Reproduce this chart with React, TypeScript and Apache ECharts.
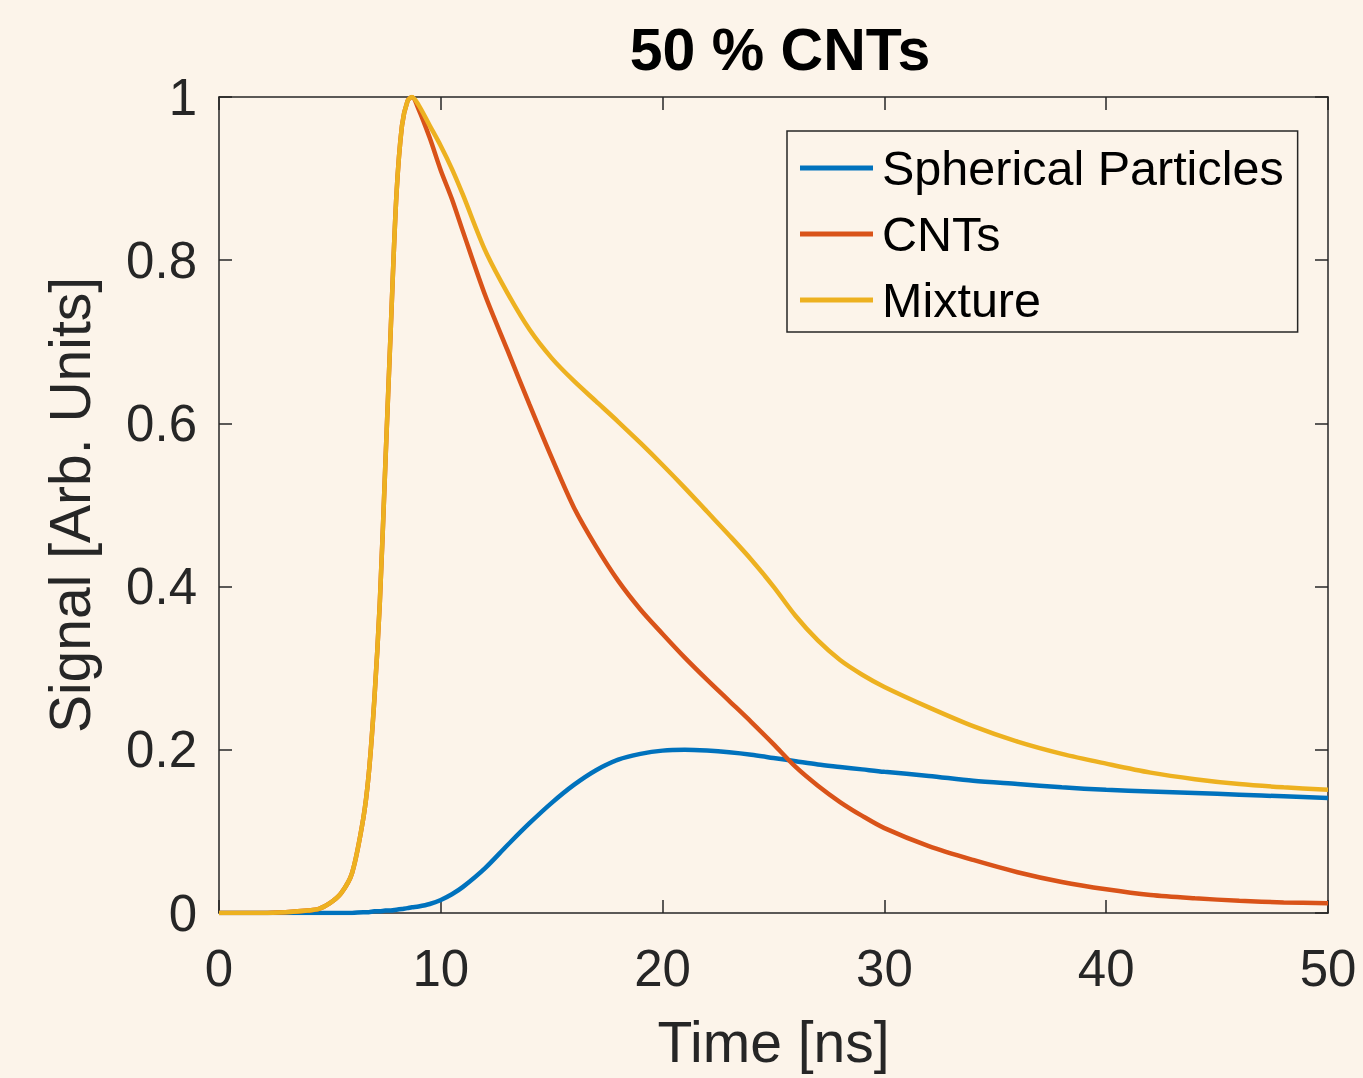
import React, { useEffect, useRef } from "react";
import * as echarts from "echarts";

const times = [0, 2, 3, 4, 4.5, 5, 5.5, 6, 6.5, 6.75, 7, 7.25, 7.5, 7.75, 8, 8.25, 8.5, 8.7, 9, 9.5, 10, 10.5, 11, 12, 13, 14, 15, 16, 17, 18, 19, 20, 21, 22, 23, 24, 25, 26, 27, 28, 29, 30, 32, 34, 36, 38, 40, 42, 44, 46, 48, 50];

const spherical = [0, 0, 0, 0, 0, 0, 0, 0, 0.001, 0.001, 0.002, 0.002, 0.003, 0.003, 0.004, 0.005, 0.006, 0.007, 0.008, 0.011, 0.016, 0.023, 0.032, 0.055, 0.083, 0.11, 0.135, 0.157, 0.175, 0.188, 0.195, 0.199, 0.2, 0.199, 0.197, 0.194, 0.19, 0.186, 0.182, 0.179, 0.176, 0.173, 0.168, 0.162, 0.158, 0.154, 0.151, 0.149, 0.147, 0.145, 0.143, 0.141];

const cnts = [0, 0, 0.001, 0.003, 0.005, 0.012, 0.024, 0.049, 0.115, 0.17, 0.26, 0.38, 0.55, 0.72, 0.88, 0.965, 0.995, 1.0, 0.985, 0.95, 0.91, 0.875, 0.835, 0.757, 0.69, 0.623, 0.558, 0.497, 0.449, 0.407, 0.372, 0.342, 0.313, 0.286, 0.26, 0.234, 0.207, 0.179, 0.156, 0.136, 0.119, 0.104, 0.082, 0.065, 0.05, 0.038, 0.029, 0.022, 0.018, 0.015, 0.013, 0.012];

const mixture = [0, 0, 0.001, 0.003, 0.005, 0.012, 0.024, 0.049, 0.115, 0.17, 0.26, 0.38, 0.55, 0.72, 0.88, 0.965, 0.995, 1.0, 0.99, 0.965, 0.94, 0.912, 0.88, 0.812, 0.76, 0.715, 0.68, 0.652, 0.627, 0.602, 0.576, 0.549, 0.521, 0.492, 0.463, 0.433, 0.4, 0.364, 0.334, 0.31, 0.292, 0.277, 0.252, 0.229, 0.21, 0.195, 0.183, 0.172, 0.164, 0.158, 0.154, 0.151];

const seriesNames = ["Spherical Particles", "CNTs", "Mixture"];
const seriesColors = ["#0072BD", "#D95319", "#EDB120"];
const xTicks = [0, 10, 20, 30, 40, 50];
const yTicks = [0, 0.2, 0.4, 0.6, 0.8, 1];

const FONT = "'Liberation Sans', Arial, Helvetica, sans-serif";
const AXIS_COLOR = "#262626";

export default function App() {
  const ref = useRef<HTMLDivElement>(null);
  useEffect(() => {
    if (!ref.current) return;
    const chart = echarts.init(ref.current, null, { renderer: "svg" });
    const values = [spherical, cnts, mixture];
    const axisCommon = {
      type: "value" as const,
      axisLine: { show: true, onZero: false, lineStyle: { color: AXIS_COLOR, width: 1.5 } },
      axisTick: { show: true, inside: true, length: 13, lineStyle: { color: AXIS_COLOR, width: 1.5 } },
      splitLine: { show: false },
    };
    chart.setOption({
      animation: false,
      backgroundColor: "#FCF4EA",
      textStyle: { fontFamily: FONT },
      title: {
        text: "50 % CNTs",
        left: 775,
        top: 15,
        textAlign: "center",
        textStyle: { fontFamily: FONT, fontWeight: "bold", fontSize: 59, color: "#000" },
      },
      grid: { left: 219, top: 97, width: 1109, height: 816, containLabel: false },
      legend: {
        data: seriesNames,
        orient: "vertical",
        left: 787,
        top: 131,
        padding: [12, 14, 7, 13],
        borderColor: AXIS_COLOR,
        borderWidth: 1.5,
        backgroundColor: "#FCF4EA",
        itemWidth: 73,
        itemHeight: 5,
        itemGap: 16,
        icon: "rect",
        textStyle: { fontFamily: FONT, fontSize: 48.5, color: "#000", lineHeight: 50, padding: [0, 0, 0, 4] },
      },
      xAxis: [
        {
          ...axisCommon,
          min: 0,
          max: 50,
          interval: 10,
          position: "bottom",
          name: "Time [ns]",
          nameLocation: "middle",
          nameGap: 100,
          nameTextStyle: { fontFamily: FONT, fontSize: 57, color: AXIS_COLOR },
          axisLabel: {
            margin: 30,
            fontSize: 51,
            color: AXIS_COLOR,
            fontFamily: FONT,
            formatter: (v: number) => (xTicks.includes(v) ? String(v) : ""),
          },
        },
        {
          ...axisCommon,
          min: 0,
          max: 50,
          interval: 10,
          position: "top",
          axisLabel: { show: false },
        },
      ],
      yAxis: [
        {
          ...axisCommon,
          min: 0,
          max: 1,
          interval: 0.2,
          position: "left",
          name: "Signal [Arb. Units]",
          nameLocation: "middle",
          nameGap: 121,
          nameTextStyle: { fontFamily: FONT, fontSize: 57, color: AXIS_COLOR },
          axisLabel: {
            margin: 22,
            fontSize: 51,
            color: AXIS_COLOR,
            fontFamily: FONT,
            formatter: (v: number) => {
              const t = yTicks.find((y) => Math.abs(y - v) < 1e-9);
              return t === undefined ? "" : String(t);
            },
          },
        },
        {
          ...axisCommon,
          min: 0,
          max: 1,
          interval: 0.2,
          position: "right",
          axisLabel: { show: false },
        },
      ],
      series: seriesNames.map((name, i) => ({
        name,
        type: "line",
        xAxisIndex: 0,
        yAxisIndex: 0,
        showSymbol: false,
        smooth: 0.3,
        color: seriesColors[i],
        lineStyle: { color: seriesColors[i], width: 4.5 },
        data: times.map((t, k) => [t, values[i][k]]),
        z: 2 + i,
      })),
    });
    return () => chart.dispose();
  }, []);
  return (
    <div
      ref={ref}
      style={{ position: "fixed", left: 0, top: 0, width: 1363, height: 1078 }}
    />
  );
}
